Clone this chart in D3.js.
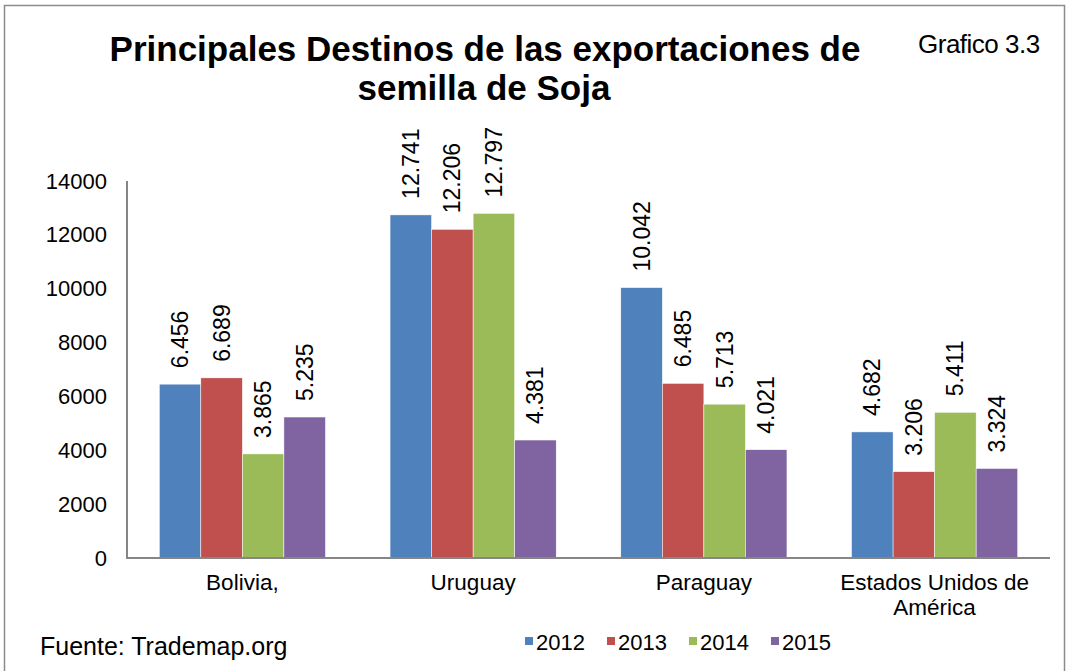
<!DOCTYPE html>
<html>
<head>
<meta charset="utf-8">
<script src="https://cdn.jsdelivr.net/npm/d3@7"></script>
<style>
  html, body { margin: 0; padding: 0; background: #fff; }
  svg text { font-family: "Liberation Sans", Arial, sans-serif; fill: #000; }
</style>
</head>
<body>
<div id="stage"></div>
<script>
// data
const categories = ['Bolivia,', 'Uruguay', 'Paraguay', 'Estados Unidos de América'];
const years = ['2012', '2013', '2014', '2015'];
const values2012 = [6456, 12741, 10042, 4682];
const values2013 = [6689, 12206, 6485, 3206];
const values2014 = [3865, 12797, 5713, 5411];
const values2015 = [5235, 4381, 4021, 3324];
const yTicks = [0, 2000, 4000, 6000, 8000, 10000, 12000, 14000];
const colors = ['#4F81BD', '#C0504D', '#9BBB59', '#8064A2'];

const series = [values2012, values2013, values2014, values2015];
const rows = categories.map((c, i) => ({
  cat: c,
  vals: years.map((yr, j) => ({year: yr, value: series[j][i]}))
}));

const W = 1070, H = 671;
const plotLeft = 127, plotRight = 1050, plotTop = 181, plotBottom = 558;

// spanish style thousands separator: 6.456
const es = d3.formatLocale({decimal: ',', thousands: '.', grouping: [3], currency: ['', '']});
const fmt = es.format(',.0f');

const svg = d3.select('#stage').append('svg')
  .attr('width', W)
  .attr('height', H);

// outer frame
svg.append('rect')
  .attr('x', 4.5)
  .attr('y', 5.5)
  .attr('width', 1060)
  .attr('height', 680)
  .style('fill', 'none')
  .style('stroke', '#8c8c8c')
  .style('stroke-width', 1.5);

const x0 = d3.scaleBand()
  .domain(categories)
  .range([plotLeft, plotRight])
  .paddingInner(0.28)
  .paddingOuter(0.14);

const x1 = d3.scaleBand()
  .domain(years)
  .range([0, x0.bandwidth()]);

const y = d3.scaleLinear()
  .domain([0, 14000])
  .range([plotBottom, plotTop]);

// y axis labels
const yAxis = svg.append('g')
  .attr('transform', `translate(${plotLeft},0)`)
  .call(d3.axisLeft(y).tickValues(yTicks).tickFormat(d3.format('d')).tickSize(0).tickPadding(20));
yAxis.select('.domain').remove();
yAxis.selectAll('text')
  .style('font-family', '"Liberation Sans", Arial, sans-serif')
  .style('font-size', '22px')
  .attr('fill', '#000');

// bars
const groups = svg.selectAll('g.cat')
  .data(rows)
  .join('g')
  .attr('class', 'cat')
  .attr('transform', d => `translate(${x0(d.cat)},0)`);

groups.selectAll('rect')
  .data(d => d.vals)
  .join('rect')
  .attr('x', d => x1(d.year))
  .attr('y', d => y(d.value))
  .attr('width', x1.bandwidth())
  .attr('height', d => y(0) - y(d.value))
  .style('fill', (d, i) => colors[i])
  .style('stroke', '#fff')
  .style('stroke-width', 0.5);

// value labels, rotated
groups.selectAll('text.val')
  .data(d => d.vals)
  .join('text')
  .attr('class', 'val')
  .attr('transform', d => `translate(${x1(d.year) + x1.bandwidth() / 2},${y(d.value) - 16}) rotate(-90)`)
  .attr('dominant-baseline', 'central')
  .style('font-size', '23px')
  .text(d => fmt(d.value));

// axis lines
svg.append('line')
  .attr('x1', plotLeft).attr('x2', plotLeft)
  .attr('y1', plotTop).attr('y2', plotBottom)
  .style('stroke', '#868686').style('stroke-width', 2);
svg.append('line')
  .attr('x1', plotLeft - 1).attr('x2', plotRight)
  .attr('y1', plotBottom).attr('y2', plotBottom)
  .style('stroke', '#868686').style('stroke-width', 2);

// category labels with wrapping
const xAxis = svg.append('g')
  .attr('transform', `translate(0,${plotBottom})`)
  .call(d3.axisBottom(x0).tickSize(0).tickPadding(0));
xAxis.select('.domain').remove();
xAxis.selectAll('text')
  .style('font-family', '"Liberation Sans", Arial, sans-serif')
  .style('font-size', '22.5px')
  .attr('fill', '#000')
  .attr('dy', null)
  .attr('y', 32)
  .call(wrap, x0.step() - 10);

function wrap(texts, w) {
  texts.each(function() {
    const t = d3.select(this);
    const words = t.text().split(/\s+/);
    const yy = +t.attr('y');
    let line = [];
    let tspan = t.text(null).append('tspan').attr('x', 0).attr('y', yy);
    let n = 0;
    words.forEach(word => {
      line.push(word);
      tspan.text(line.join(' '));
      if (tspan.node().getComputedTextLength() > w && line.length > 1) {
        line.pop();
        tspan.text(line.join(' '));
        line = [word];
        n++;
        tspan = t.append('tspan').attr('x', 0).attr('y', yy + n * 25).text(word);
      }
    });
  });
}

// title
svg.append('text')
  .attr('text-anchor', 'middle')
  .attr('x', 485)
  .attr('y', 61)
  .style('font-size', '35px')
  .style('font-weight', 'bold')
  .text('Principales Destinos de las exportaciones de');
svg.append('text')
  .attr('text-anchor', 'middle')
  .attr('x', 484)
  .attr('y', 100)
  .style('font-size', '35px')
  .style('font-weight', 'bold')
  .text('semilla de Soja');

svg.append('text')
  .attr('x', 918)
  .attr('y', 53)
  .style('font-size', '26px')
  .style('letter-spacing', '-0.5px')
  .text('Grafico 3.3');

svg.append('text')
  .attr('x', 40)
  .attr('y', 655)
  .style('font-size', '25px')
  .text('Fuente: Trademap.org');

// legend
const legend = svg.append('g')
  .attr('transform', 'translate(525,0)');
const item = legend.selectAll('g')
  .data(years)
  .join('g')
  .attr('transform', (d, i) => `translate(${i * 82},0)`);
item.append('rect')
  .attr('x', 0)
  .attr('y', 637)
  .attr('width', 8)
  .attr('height', 8)
  .style('fill', (d, i) => colors[i]);
item.append('text')
  .attr('x', 11)
  .attr('y', 650)
  .style('font-size', '22px')
  .text(d => d);
</script>
</body>
</html>
